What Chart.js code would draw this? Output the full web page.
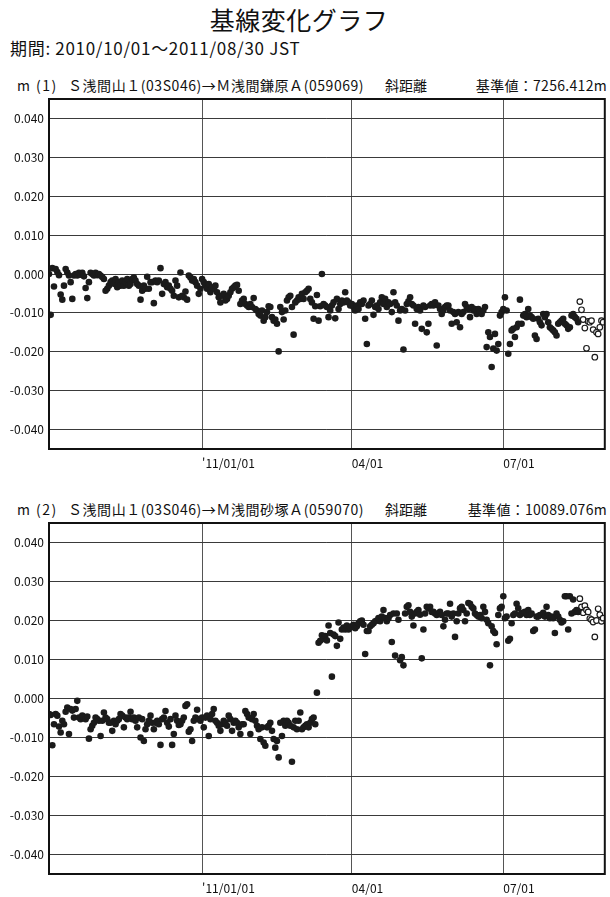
<!DOCTYPE html>
<html lang="ja">
<head>
<meta charset="utf-8">
<title>基線変化グラフ</title>
<script src="https://cdn.jsdelivr.net/npm/chart.js@4.4.1/dist/chart.umd.min.js"></script>
<style>
  html, body { margin: 0; padding: 0; background: #fff; overflow: hidden; }
  body { width: 610px; height: 897px; position: relative; font-family: "Noto Sans CJK JP", sans-serif; color: #111; }
  .t { position: absolute; white-space: nowrap; line-height: 1; }
  .h { font-size: 14px; }
  .sp { letter-spacing: 0.55px; }
  canvas { position: absolute; left: 0; }
</style>
</head>
<body>
<div class="t" style="left:0;width:598px;text-align:center;top:7px;font-size:25px;letter-spacing:0.5px;">基線変化グラフ</div>
<div class="t" style="left:10px;top:39px;font-size:17px;letter-spacing:0.7px;">期間: 2010/10/01～2011/08/30 JST</div>

<div class="t h" style="left:17px;top:78px;">m</div>
<div class="t h" style="left:36px;top:78px;letter-spacing:1.5px;">(1)</div>
<div class="t h sp" style="left:68px;top:78px;">Ｓ浅間山１(03S046)→Ｍ浅間鎌原Ａ(059069)</div>
<div class="t h" style="left:385px;top:78px;">斜距離</div>
<div class="t h" style="right:3px;top:78px;letter-spacing:0.3px;">基準値：7256.412m</div>

<div class="t h" style="left:17px;top:502px;">m</div>
<div class="t h" style="left:36px;top:502px;letter-spacing:1.5px;">(2)</div>
<div class="t h sp" style="left:68px;top:502px;">Ｓ浅間山１(03S046)→Ｍ浅間砂塚Ａ(059070)</div>
<div class="t h" style="left:385px;top:502px;">斜距離</div>
<div class="t h" style="right:3px;top:502px;letter-spacing:0.3px;">基準値：10089.076m</div>

<canvas id="chart1" width="610" height="408" style="top:83px"></canvas>
<canvas id="chart2" width="610" height="390" style="top:507px"></canvas>

<script>
// days counted from 2010/10/01; values in mm (axis is in m)
const xTickDays = [92, 182, 273];
const xTickLabels = ["'11/01/01", '04/01', '07/01'];
const yTicks = [-0.04, -0.03, -0.02, -0.01, 0, 0.01, 0.02, 0.03, 0.04];
const openStart = 319;

// (1) 浅間山1 -> 浅間鎌原A, days 0..318 (final solutions)
const line1 = [
  0.0, -10.5, 1.5, -3.2, 1.3, 0.5, -0.3, -5.3, -6.6, -3.0,
  1.3, 0.4, -0.4, -2.1, -6.4, -0.4, 0.0, -0.4, 0.3, -0.2,
  0.3, -0.6, -3.6, -6.2, -2.1, 0.3, 0.0, -0.4, 0.3, -0.3,
  0.0, -0.4, -0.8, -1.3, -4.3, -3.8, -3.0, -2.1, -1.7, -2.5,
  -1.3, -3.4, -2.1, -3.0, -1.7, -3.0, -2.1, -1.3, -3.0, -2.6,
  -1.3, -0.9, -1.7, -2.6, -3.0, -6.6, -4.3, -3.0, -3.8, -0.7,
  -3.8, -2.1, -2.1, -7.5, -1.7, -2.1, -1.7, 1.5, -5.1, -2.6,
  -2.1, -3.4, -3.0, -3.8, -4.3, -5.6, -1.7, -3.0, -6.0, 0.4,
  -5.6, -6.0, -4.5, -6.6, -0.4, -0.9, -1.7, -1.3, -2.1, -3.0,
  -5.1, -3.8, -1.3, -2.1, -3.0, -3.8, -2.6, -4.7, -3.4, -3.8,
  -3.0, -4.7, -6.0, -7.3, -5.6, -5.1, -6.8, -6.4, -5.6, -4.7,
  -3.8, -3.4, -3.0, -2.8, -4.3, -7.7, -6.8, -6.4, -7.7, -8.1,
  -8.5, -7.7, -8.5, -6.2, -9.0, -9.4, -10.3, -10.7, -9.4, -12.0,
  -11.1, -9.8, -8.3, -8.5, -11.1, -12.0, -11.7, -12.8, -19.9, -8.5,
  -9.8, -11.7, -9.4, -6.8, -6.0, -5.6, -8.5, -15.6, -7.3, -6.8,
  -6.0, -6.4, -5.1, -6.4, -4.7, -4.3, -3.8, -6.4, -7.3, -11.5,
  -8.3, -5.4, -12.0, -8.3, 0.0, -7.7, -8.1, -8.5, -11.1, -9.4,
  -8.1, -7.3, -11.4, -6.4, -9.0, -7.7, -6.8, -7.3, -4.7, -6.8,
  -7.3, -8.1, -7.7, -8.5, -9.4, -8.1, -9.0, -7.3, -7.7, -6.8,
  -11.5, -18.0, -8.1, -7.7, -6.8, -10.5, -8.5, -8.1, -9.0, -7.3,
  -6.0, -7.7, -6.4, -8.5, -7.3, -7.7, -9.8, -4.7, -7.3, -8.1,
  -12.0, -9.4, -9.0, -19.4, -9.4, -7.7, -7.0, -6.0, -7.7, -8.1,
  -12.8, -9.0, -8.5, -9.4, -14.1, -8.1, -8.5, -15.0, -12.8, -8.1,
  -7.7, -8.1, -7.3, -18.4, -8.1, -9.0, -10.3, -9.4, -8.5, -8.1,
  -8.1, -9.4, -12.8, -9.8, -10.3, -12.4, -9.8, -13.7, -10.3, -9.8,
  -7.7, -8.5, -9.0, -11.1, -8.5, -9.4, -9.0, -10.3, -9.0, -9.8,
  -10.3, -9.4, -8.5, -18.8, -15.0, -16.2, -23.9, -19.2, -15.4, -19.7,
  -18.0, -10.7, -9.8, -9.0, -6.0, -9.4, -20.5, -18.0, -14.5, -14.1,
  -16.2, -13.7, -12.8, -6.6, -12.8, -10.7, -10.3, -11.1, -9.0, -10.7,
  -11.1, -11.5, -15.8, -16.7, -11.5, -12.4, -13.2, -10.3, -11.1, -10.3,
  -12.4, -13.7, -14.1, -14.5, -15.0, -15.8, -12.8, -12.4, -12.0, -11.5,
  -12.8, -13.2, -14.1, -13.7, -10.7, -10.3, -11.1, -11.5, -12.4
];
// days 319..333 (rapid solutions, open circles)
const line1Open = [-7.1, -9.2, -11.7, -13.9, -19.1, -12.2, -12.4, -12.0, -14.3, -21.4, -15.0, -15.4, -13.7, -12.0, -12.4];

// (2) 浅間山1 -> 浅間砂塚A, days 0..318
const line2 = [
  -4.0, -4.2, -12.0, -6.6, -4.0, -4.4, -7.2, -8.7, -5.7, -6.6,
  -3.4, -2.3, -9.1, -2.7, -3.1, -4.9, -2.7, -0.6, -4.9, -5.3,
  -4.4, -4.9, -5.3, -4.6, -10.3, -7.9, -7.0, -6.2, -4.9, -5.3,
  -5.7, -9.6, -5.7, -3.6, -4.9, -5.3, -6.2, -6.2, -8.3, -5.7,
  -6.6, -5.7, -5.3, -4.0, -4.4, -7.4, -4.9, -5.3, -4.9, -3.4,
  -5.3, -4.9, -5.7, -7.4, -4.9, -10.0, -5.3, -10.9, -7.9, -6.6,
  -5.7, -4.4, -6.2, -7.9, -6.2, -5.7, -6.6, -11.9, -5.3, -4.9,
  -3.2, -6.2, -7.2, -5.3, -11.9, -9.1, -4.4, -5.7, -6.8, -6.6,
  -5.7, -4.9, -1.9, -1.5, -8.5, -7.9, -10.9, -5.7, -4.9, -2.9,
  -5.3, -5.7, -4.9, -7.4, -4.9, -4.4, -9.6, -5.3, -4.0, -2.7,
  -5.7, -6.2, -7.0, -8.3, -6.6, -5.7, -6.2, -7.0, -4.4, -5.3,
  -8.3, -6.2, -5.7, -6.2, -7.4, -9.1, -6.6, -6.6, -3.2, -4.0,
  -4.9, -9.1, -5.3, -4.0, -5.7, -7.0, -7.9, -10.4, -7.4, -11.3,
  -12.1, -7.4, -7.0, -6.2, -8.3, -10.4, -12.6, -10.9, -15.1, -6.2,
  -9.6, -5.7, -7.0, -5.7, -6.2, -7.0, -16.2, -7.4, -5.7, -7.9,
  -5.7, -3.6, -7.9, -7.4, -7.0, -6.6, -7.4, -6.2, -5.3, -4.9,
  -6.6, 1.5, 14.3, 14.8, 16.2, 15.3, 16.0, 14.9, 18.7, 16.8,
  5.6, 16.4, 16.0, 13.5, 19.5, 15.3, 17.7, 18.2, 17.7, 18.7,
  17.7, 18.2, 18.5, 18.9, 18.0, 18.5, 19.3, 19.8, 20.0, 18.9,
  11.4, 17.3, 17.3, 18.5, 18.9, 19.3, 19.8, 20.0, 20.6, 19.8,
  21.0, 22.7, 20.6, 19.8, 20.6, 21.4, 14.5, 21.8, 11.0, 21.8,
  20.2, 9.8, 10.6, 8.5, 21.8, 23.5, 23.9, 22.2, 21.0, 18.7,
  21.8, 22.2, 22.7, 21.5, 10.3, 17.7, 21.8, 23.5, 23.1, 23.5,
  22.2, 22.2, 21.8, 21.4, 21.8, 22.2, 21.4, 18.5, 20.2, 21.8,
  21.8, 24.3, 21.0, 21.8, 15.8, 19.8, 21.8, 23.1, 23.5, 22.7,
  19.8, 21.8, 24.5, 24.3, 23.5, 23.1, 21.8, 21.4, 21.0, 21.4,
  20.6, 23.5, 22.2, 20.2, 19.3, 8.5, 18.5, 17.3, 16.8, 13.9,
  21.4, 23.1, 23.5, 26.2, 20.6, 21.0, 14.8, 15.3, 19.3, 21.4,
  21.8, 24.3, 23.1, 21.4, 21.8, 22.0, 22.2, 21.4, 22.7, 21.4,
  21.8, 17.3, 17.7, 21.0, 21.0, 21.4, 21.4, 22.0, 21.0, 23.5,
  21.4, 20.6, 21.0, 20.6, 16.8, 21.8, 21.0, 20.2, 19.5, 19.8,
  26.2, 26.2, 17.7, 26.2, 21.8, 25.4, 22.2, 22.7, 22.2
];
const line2Open = [25.6, 23.5, 22.0, 23.8, 22.7, 22.2, 20.5, 20.2, 19.6, 15.8, 20.0, 23.0, 21.5, 19.8, 20.6];

function toPoints(vals, startDay) {
  return vals.map((v, i) => ({ x: startDay + i, y: v / 1000 }));
}

const framePlugin = {
  id: 'frame',
  afterDraw(chart) {
    const a = chart.chartArea;
    const ctx = chart.ctx;
    ctx.save();
    ctx.strokeStyle = '#111';
    ctx.lineWidth = 2;
    ctx.strokeRect(a.left, a.top, a.right - a.left, a.bottom - a.top);
    ctx.restore();
  }
};

function makeChart(id, filled, open, xAxisHeight) {
  const tickFont = { family: '"Noto Sans CJK JP", sans-serif', size: 12 };
  return new Chart(document.getElementById(id), {
    type: 'scatter',
    data: {
      datasets: [
        {
          data: toPoints(filled, 0),
          pointRadius: 3.3,
          pointBackgroundColor: '#1b1b1b',
          pointBorderColor: '#1b1b1b',
          pointBorderWidth: 0,
        },
        {
          data: toPoints(open, openStart),
          pointRadius: 2.8,
          pointBackgroundColor: '#fff',
          pointBorderColor: '#1b1b1b',
          pointBorderWidth: 1.2,
        },
      ],
    },
    options: {
      responsive: false,
      animation: false,
      layout: { padding: { top: 16, right: 1, left: 0, bottom: 0 } },
      plugins: { legend: { display: false }, tooltip: { enabled: false } },
      scales: {
        x: {
          type: 'linear',
          min: 0,
          max: 334,
          afterBuildTicks: s => { s.ticks = xTickDays.map(v => ({ value: v })); },
          afterFit: s => { s.height = xAxisHeight; },
          grid: { color: '#555', lineWidth: 1, drawTicks: false },
          border: { display: false },
          ticks: {
            align: 'start',
            padding: 7,
            maxRotation: 0,
            color: '#111',
            font: tickFont,
            callback: v => xTickLabels[xTickDays.indexOf(v)] ?? '',
          },
        },
        y: {
          min: -0.045,
          max: 0.045,
          afterBuildTicks: s => { s.ticks = yTicks.map(v => ({ value: v })); },
          afterFit: s => { s.width = 49; },
          grid: { color: '#3a3a3a', lineWidth: 1, drawTicks: false },
          border: { display: false },
          ticks: {
            padding: 5,
            color: '#111',
            font: tickFont,
            callback: v => v.toFixed(3),
          },
        },
      },
    },
    plugins: [framePlugin],
  });
}

makeChart('chart1', line1, line1Open, 42);
makeChart('chart2', line2, line2Open, 23);
</script>
</body>
</html>
